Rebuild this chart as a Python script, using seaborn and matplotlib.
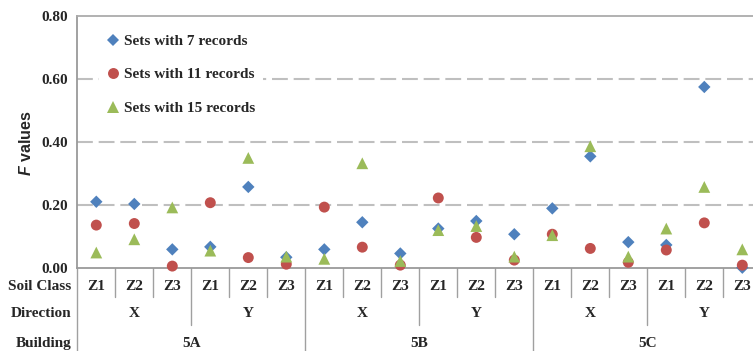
import numpy as np
import pandas as pd
import matplotlib
matplotlib.use("Agg")
import matplotlib.pyplot as plt
import matplotlib.transforms as mtrans
import seaborn as sns

# Category hierarchy along the x axis
buildings = ["5A", "5B", "5C"]
directions = ["X", "Y"]
soil_classes = ["Z1", "Z2", "Z3"]

# F values per record-set size, ordered building -> direction -> soil class
series_names = ["Sets with 7 records", "Sets with 11 records", "Sets with 15 records"]
f_7 = [0.211, 0.204, 0.060, 0.068, 0.258, 0.035,
       0.060, 0.146, 0.047, 0.126, 0.150, 0.108,
       0.190, 0.355, 0.083, 0.074, 0.575, 0.002]
f_11 = [0.137, 0.142, 0.007, 0.208, 0.034, 0.013,
        0.194, 0.067, 0.010, 0.223, 0.098, 0.026,
        0.108, 0.063, 0.019, 0.058, 0.144, 0.010]
f_15 = [0.050, 0.092, 0.193, 0.056, 0.350, 0.037,
        0.030, 0.333, 0.023, 0.121, 0.134, 0.037,
        0.105, 0.387, 0.037, 0.126, 0.258, 0.060]
y_ticks = [0.0, 0.2, 0.4, 0.6, 0.8]

sns.set_theme(style="white")
plt.rcParams["font.family"] = ["Liberation Serif", "DejaVu Serif"]
plt.rcParams["mathtext.fontset"] = "custom"
plt.rcParams["mathtext.it"] = "Liberation Sans:italic:bold"
plt.rcParams["mathtext.rm"] = "Liberation Sans:bold"

n_cat = len(buildings) * len(directions) * len(soil_classes)
positions = np.arange(n_cat)
df = pd.DataFrame({
    "pos": np.tile(positions, len(series_names)),
    "F": f_7 + f_11 + f_15,
    "series": np.repeat(series_names, n_cat),
})

W, H = 753, 351
fig = plt.figure(figsize=(W / 100, H / 100), dpi=100)
left_px, right_px, top_px, bottom_px = 77.3, 761.3, 16.0, 268.3
ax = fig.add_axes([left_px / W, 1 - bottom_px / H,
                   (right_px - left_px) / W, (bottom_px - top_px) / H])

palette = dict(zip(series_names, ["#4F81BD", "#C0504D", "#9BBB59"]))
markers = dict(zip(series_names, ["D", "o", "^"]))
marker_sizes = dict(zip(series_names, [40, 62, 72]))

sns.scatterplot(data=df, x="pos", y="F", hue="series", style="series",
                size="series", sizes=marker_sizes,
                palette=palette, markers=markers, linewidth=0,
                ax=ax, zorder=3, clip_on=False)

ax.set_xlim(-0.5, n_cat - 0.5)
ax.set_ylim(0, 0.8)

# dashed horizontal gridlines
for yv in y_ticks[1:-1]:
    ax.axhline(yv, color="#BFBFBF", lw=1.5, ls=(0, (7.6, 2.8)), zorder=1)

for side in ["left", "bottom", "top"]:
    ax.spines[side].set_color("#9A9A9A")
    ax.spines[side].set_linewidth(1.3)
ax.spines["top"].set_color("#ABABAB")
ax.spines["right"].set_visible(False)

ax.set_yticks(y_ticks)
ax.set_yticklabels([f"{v:.2f}" for v in y_ticks], fontsize=11, fontweight="bold")
ax.tick_params(axis="y", length=0, pad=7)
ax.set_xticks([])
ax.set_xlabel("")

ax.set_ylabel("$F$ values", family="Liberation Sans", fontweight="bold", fontsize=11.5)
ax.yaxis.set_label_coords(-0.064, 0.497)

# legend
handles, labels = ax.get_legend_handles_labels()
leg = ax.legend(handles, labels, loc="upper left", bbox_to_anchor=(0.032, 0.958),
                borderaxespad=0, frameon=True, fancybox=False, framealpha=1,
                edgecolor="white", handlelength=0.8, handletextpad=0.35,
                labelspacing=1.3, borderpad=0.5,
                prop={"family": "Liberation Serif", "weight": "bold", "size": 11})
leg.get_frame().set_linewidth(0)

# multi-level category labels under the axis
trans = mtrans.blended_transform_factory(ax.transData, ax.transAxes)
trans_ax = ax.transAxes
row_y = {"soil": -0.073, "dir": -0.178, "bld": -0.300}
txt_kw = dict(fontsize=11, fontweight="bold", va="center", ha="center")
line_kw = dict(color="#A0A0A0", lw=1.0, clip_on=False, transform=trans)

ax.text(-0.0082, row_y["soil"], "Soil Class", transform=trans_ax,
        **{**txt_kw, "ha": "right"})
ax.text(-0.0082, row_y["dir"], "Direction", transform=trans_ax,
        **{**txt_kw, "ha": "right"})
ax.text(-0.0082, row_y["bld"], "Building", transform=trans_ax,
        **{**txt_kw, "ha": "right"})

i = 0
for b_idx, b in enumerate(buildings):
    b_start = i
    for d_idx, d in enumerate(directions):
        d_start = i
        for s_idx, s in enumerate(soil_classes):
            ax.text(i, row_y["soil"], s, transform=trans, **txt_kw)
            if s_idx > 0:
                ax.plot([i - 0.5, i - 0.5], [0, -0.1125], **line_kw)
            i += 1
        ax.text((d_start + i - 1) / 2, row_y["dir"], d, transform=trans, **txt_kw)
        if d_idx > 0:
            ax.plot([d_start - 0.5, d_start - 0.5], [0, -0.225], **line_kw)
    ax.text((b_start + i - 1) / 2, row_y["bld"], b, transform=trans, **txt_kw)
    ax.plot([b_start - 0.5, b_start - 0.5], [0, -0.36], **line_kw)
ax.plot([i - 0.5, i - 0.5], [0, -0.36], **line_kw)

fig.savefig("out.png", dpi=100)
